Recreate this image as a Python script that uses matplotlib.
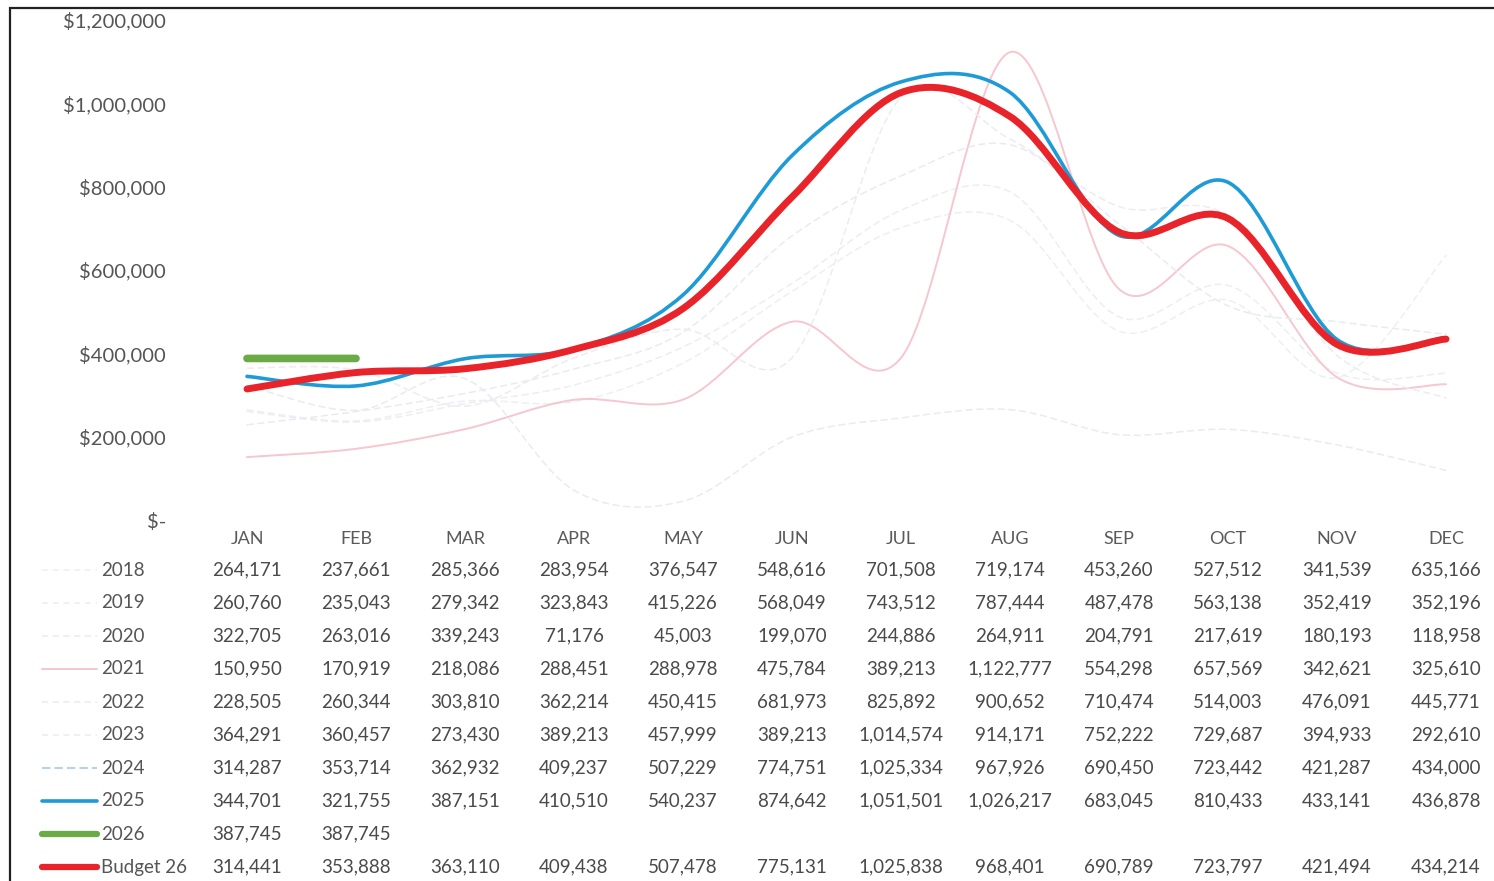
import matplotlib.pyplot as plt
from matplotlib.path import Path
from matplotlib.patches import PathPatch, Rectangle
from matplotlib.lines import Line2D
import matplotlib.transforms as mtransforms

plt.rcParams['font.family'] = ['Lato', 'DejaVu Sans']

months = ['JAN', 'FEB', 'MAR', 'APR', 'MAY', 'JUN', 'JUL', 'AUG', 'SEP', 'OCT', 'NOV', 'DEC']

y2018 = [264171, 237661, 285366, 283954, 376547, 548616, 701508, 719174, 453260, 527512, 341539, 635166]
y2019 = [260760, 235043, 279342, 323843, 415226, 568049, 743512, 787444, 487478, 563138, 352419, 352196]
y2020 = [322705, 263016, 339243, 71176, 45003, 199070, 244886, 264911, 204791, 217619, 180193, 118958]
y2021 = [150950, 170919, 218086, 288451, 288978, 475784, 389213, 1122777, 554298, 657569, 342621, 325610]
y2022 = [228505, 260344, 303810, 362214, 450415, 681973, 825892, 900652, 710474, 514003, 476091, 445771]
y2023 = [364291, 360457, 273430, 389213, 457999, 389213, 1014574, 914171, 752222, 729687, 394933, 292610]
y2024 = [314287, 353714, 362932, 409237, 507229, 774751, 1025334, 967926, 690450, 723442, 421287, 434000]
y2025 = [344701, 321755, 387151, 410510, 540237, 874642, 1051501, 1026217, 683045, 810433, 433141, 436878]
y2026 = [387745, 387745]
budget26 = [314441, 353888, 363110, 409438, 507478, 775131, 1025838, 968401, 690789, 723797, 421494, 434214]

row_names = ['2018', '2019', '2020', '2021', '2022', '2023', '2024', '2025', '2026', 'Budget 26']
row_values = [y2018, y2019, y2020, y2021, y2022, y2023, y2024, y2025, y2026, budget26]

# estilo de cada serie: color, grosor, tipo de linea
styles = [
    ('#eeeff3', 1.1, (0, (4, 3))),
    ('#eceef4', 1.1, (0, (4, 3))),
    ('#eaebf0', 1.1, (0, (4, 3))),
    ('#f7c6ce', 1.4, '-'),
    ('#e8ebf2', 1.1, (0, (4, 3))),
    ('#ececf1', 1.1, (0, (4, 3))),
    ('#b3d2ec', 1.5, (0, (4, 2))),
    ('#1e9bd7', 2.6, '-'),
    ('#6aab45', 5.5, '-'),
    ('#e8242a', 5.0, '-'),
]


def curva_suave(xs, ys):
    # linea suavizada tipo excel (bezier con puntos de control catmull-rom)
    n = len(xs)
    verts = [(xs[0], ys[0])]
    codes = [Path.MOVETO]
    for i in range(n - 1):
        x0, y0 = (xs[i - 1], ys[i - 1]) if i > 0 else (xs[i], ys[i])
        x1, y1 = xs[i], ys[i]
        x2, y2 = xs[i + 1], ys[i + 1]
        x3, y3 = (xs[i + 2], ys[i + 2]) if i + 2 < n else (xs[i + 1], ys[i + 1])
        c1 = (x1 + (x2 - x0) / 6, y1 + (y2 - y0) / 6)
        c2 = (x2 - (x3 - x1) / 6, y2 - (y3 - y1) / 6)
        verts += [c1, c2, (x2, y2)]
        codes += [Path.CURVE4] * 3
    return Path(verts, codes)


W, H = 1494, 881
fig = plt.figure(figsize=(W / 100, H / 100), dpi=100)
ax_left = 192.5 / W
ax_bottom = (H - 520) / H
ax_top = (H - 20) / H
ax = fig.add_axes([ax_left, ax_bottom, 1 - ax_left, ax_top - ax_bottom])
ax.set_xlim(-0.5, 11.44)
ax.set_ylim(0, 1200000)

for vals, (col, lw, ls) in zip(row_values, styles):
    xs = list(range(len(vals)))
    p = PathPatch(curva_suave(xs, vals), facecolor='none', edgecolor=col, lw=lw,
                  linestyle=ls, capstyle='round', joinstyle='round')
    ax.add_patch(p)

for s in ax.spines.values():
    s.set_visible(False)
ax.set_xticks(range(12))
ax.set_xticklabels(months)
yt = list(range(0, 1200001, 200000))
ax.set_yticks(yt)
ax.set_yticklabels(['$-'] + ['${:,}'.format(v) for v in yt[1:]])
ax.tick_params(axis='x', length=0, pad=8, labelsize=13, labelcolor='#5a5a5a')
ax.tick_params(axis='y', length=0, pad=19, labelsize=14.5, labelcolor='#555555')
ax.patch.set_alpha(0)

# tabla de datos bajo la grafica
trans = mtransforms.blended_transform_factory(ax.transData, fig.transFigure)
for r, (name, vals) in enumerate(zip(row_names, row_values)):
    yy = 1 - (570 + 33 * r) / H
    fig.text(101 / W, yy, name, ha='left', va='center', fontsize=13.5, color='#555555')
    for i, v in enumerate(vals):
        ax.text(i, yy, '{:,}'.format(v), transform=trans, ha='center', va='center',
                fontsize=13.5, color='#4a4a4a', clip_on=False)
    col, lw, ls = styles[r]
    fig.add_artist(Line2D([42 / W, 97 / W], [yy, yy], color=col, lw=min(lw, 4.5),
                          linestyle=ls, solid_capstyle='round'))

# marco
fig.add_artist(Rectangle((10 / W, -0.05), 1.2, 1 - 8 / H + 0.05, transform=fig.transFigure,
                         facecolor='none', edgecolor='#222222', lw=1.6))

fig.savefig('out.png', dpi=100)
